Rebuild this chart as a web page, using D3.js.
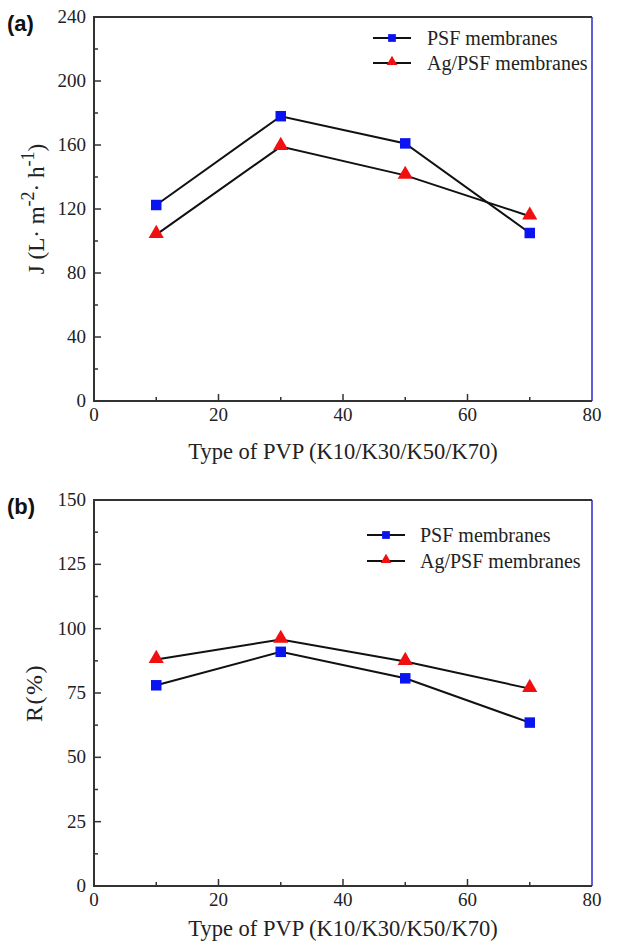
<!DOCTYPE html>
<html>
<head>
<meta charset="utf-8">
<script src="https://cdn.jsdelivr.net/npm/d3@7"></script>
<style>
  html, body { margin: 0; padding: 0; background: #fff; }
  svg { display: block; }
</style>
</head>
<body>
<svg id="chart" width="624" height="945"></svg>
<script>
// PVP grade (K value) on the x axis
const pvpTypes = [10, 30, 50, 70];

// Panel (a): pure water flux
const fluxPSF   = [122.5, 178, 161, 105];
const fluxAgPSF = [104, 159, 141, 115.5];

// Panel (b): rejection
const rejPSF   = [78, 91, 80.7, 63.5];
const rejAgPSF = [88, 95.8, 87.2, 76.7];

const xTicks = [0, 20, 40, 60, 80];
const fluxTicks = [0, 40, 80, 120, 160, 200, 240];
const rejTicks = [0, 25, 50, 75, 100, 125, 150];

const seriesNames = ["PSF membranes", "Ag/PSF membranes"];

const SERIF = "'Liberation Serif', 'Times New Roman', serif";
const SANS = "'Liberation Sans', Arial, sans-serif";
const INK = "#222";

const svg = d3.select("#chart");

function drawPanel(cfg) {
  const { top, bottom, left, right, yMax, yTicks, a, b, letter, yTitle, titleGap, legend } = cfg;
  const x = d3.scaleLinear().domain([0, 80]).range([left, right]);
  const y = d3.scaleLinear().domain([0, yMax]).range([bottom, top]);
  const g = svg.append("g");

  // inward ticks, major and minor
  const xMinor = d3.range(10, 80, 20);
  const yStep = yTicks[1] - yTicks[0];
  const yMinor = yTicks.slice(0, -1).map(v => v + yStep / 2);

  const tick = (data, len, horizontal) =>
    g.append("g").selectAll("line").data(data).join("line")
      .attr("x1", d => horizontal ? x(d) : left)
      .attr("x2", d => horizontal ? x(d) : left + len)
      .attr("y1", d => horizontal ? bottom : y(d))
      .attr("y2", d => horizontal ? bottom - len : y(d))
      .attr("stroke", "#333").attr("stroke-width", 1.5);
  tick(xTicks.slice(1, -1), 7, true);
  tick(xMinor, 4, true);
  tick(yTicks.slice(1, -1), 7, false);
  tick(yMinor, 4, false);

  // frame: dark left/bottom/top, blue right edge
  g.append("path")
    .attr("d", `M${right},${top}H${left}V${bottom}H${right}`)
    .attr("fill", "none").attr("stroke", "#333").attr("stroke-width", 2);
  g.append("line")
    .attr("x1", right).attr("x2", right).attr("y1", top).attr("y2", bottom)
    .attr("stroke", "#2a2ad0").attr("stroke-width", 1.5);

  // tick labels
  g.append("g").selectAll("text").data(xTicks).join("text")
    .attr("x", d => x(d)).attr("y", bottom + 20)
    .attr("text-anchor", "middle")
    .style("font-family", SERIF).style("font-size", "19px").attr("fill", INK)
    .text(d => d);
  g.append("g").selectAll("text").data(yTicks).join("text")
    .attr("x", left - 8).attr("y", d => y(d) + 6)
    .attr("text-anchor", "end")
    .style("font-family", SERIF).style("font-size", "19px").attr("fill", INK)
    .text(d => d);

  // x title
  g.append("text")
    .attr("x", (left + right) / 2).attr("y", bottom + titleGap)
    .attr("text-anchor", "middle")
    .style("font-family", SERIF).style("font-size", "22.5px").attr("fill", INK)
    .text("Type of PVP (K10/K30/K50/K70)");

  // y title
  yTitle(g, (top + bottom) / 2);

  // panel letter
  g.append("text")
    .attr("x", 7).attr("y", top + 14)
    .style("font-family", SANS).style("font-weight", "bold").style("font-size", "22px")
    .attr("fill", "#111")
    .text(letter);

  // series lines
  const line = d3.line().x((d, i) => x(pvpTypes[i])).y(d => y(d));
  [a, b].forEach(vals => {
    g.append("path").datum(vals).attr("d", line)
      .attr("fill", "none").attr("stroke", "#111").attr("stroke-width", 2);
  });

  // markers
  const sq = d3.symbol().type(d3.symbolSquare).size(110);
  const tri = d3.symbol().type(d3.symbolTriangle).size(100);
  g.append("g").selectAll("path").data(a).join("path")
    .attr("transform", (d, i) => `translate(${x(pvpTypes[i])},${y(d)})`)
    .attr("d", sq).attr("fill", "#0a14f0");
  g.append("g").selectAll("path").data(b).join("path")
    .attr("transform", (d, i) => `translate(${x(pvpTypes[i])},${y(d) - 1})`)
    .attr("d", tri).attr("fill", "#f01010");

  // legend
  const { lx, ly, gap, tx } = legend;
  const leg = g.append("g");
  seriesNames.forEach((name, i) => {
    const yy = ly + i * gap;
    leg.append("line").attr("x1", lx).attr("x2", lx + 38)
      .attr("y1", yy).attr("y2", yy).attr("stroke", "#111").attr("stroke-width", 2);
    leg.append("path")
      .attr("transform", `translate(${lx + 19},${yy - (i ? 1 : 0)})`)
      .attr("d", i ? d3.symbol().type(d3.symbolTriangle).size(50)()
                   : d3.symbol().type(d3.symbolSquare).size(60)())
      .attr("fill", i ? "#f01010" : "#0a14f0");
    leg.append("text").attr("x", tx).attr("y", yy + 7)
      .style("font-family", SERIF).style("font-size", "20px").attr("fill", INK)
      .text(name);
  });
}

drawPanel({
  top: 17, bottom: 401, left: 94, right: 592, yMax: 240, yTicks: fluxTicks,
  a: fluxPSF, b: fluxAgPSF, letter: "(a)", titleGap: 58,
  legend: { lx: 373, ly: 38, gap: 25, tx: 427 },
  yTitle: (g, cy) => {
    const t = g.append("text")
      .attr("transform", `translate(44,${cy}) rotate(-90)`)
      .attr("text-anchor", "middle")
      .style("font-family", SERIF).style("font-size", "23px").attr("fill", INK);
    t.append("tspan").text("J (L· m");
    t.append("tspan").attr("dy", -10).style("font-size", "18px").text("-2");
    t.append("tspan").attr("dy", 10).text("· h");
    t.append("tspan").attr("dy", -10).style("font-size", "18px").text("-1");
    t.append("tspan").attr("dy", 10).text(")");
  }
});

drawPanel({
  top: 500, bottom: 886, left: 94, right: 592, yMax: 150, yTicks: rejTicks,
  a: rejPSF, b: rejAgPSF, letter: "(b)", titleGap: 50,
  legend: { lx: 367, ly: 535, gap: 26, tx: 420 },
  yTitle: (g, cy) => {
    g.append("text")
      .attr("transform", `translate(42,${cy}) rotate(-90)`)
      .attr("text-anchor", "middle")
      .style("font-family", SERIF).style("font-size", "24px")
      .style("letter-spacing", "1.5px").attr("fill", INK)
      .text("R(%)");
  }
});
</script>
</body>
</html>
